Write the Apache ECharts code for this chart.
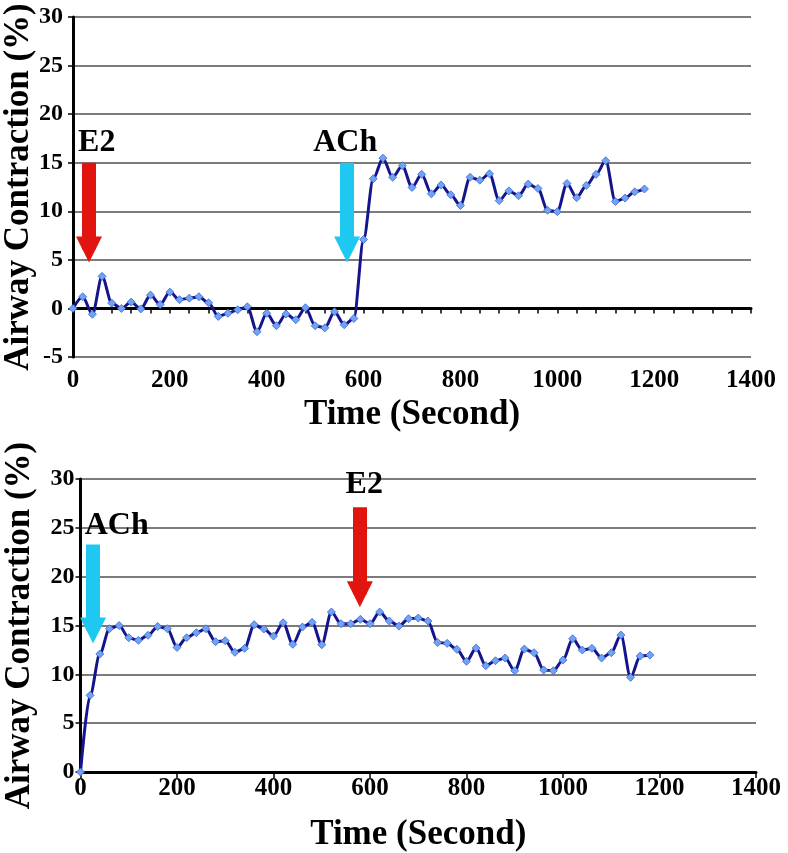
<!DOCTYPE html>
<html>
<head>
<meta charset="utf-8">
<script src="https://cdn.jsdelivr.net/npm/echarts@6/dist/echarts.min.js"></script>
<style>
html,body{margin:0;padding:0;background:#fff;}
#chart{width:788px;height:853px;}
</style>
</head>
<body>
<div id="chart"></div>
<script>
// ---- data ----
const seconds = [0,20,40,60,80,100,120,140,160,180,200,220,240,260,280,300,320,340,360,380,
  400,420,440,460,480,500,520,540,560,580,600,620,640,660,680,700,720,740,760,780,
  800,820,840,860,880,900,920,940,960,980,1000,1020,1040,1060,1080,1100,1120,1140,1160,1180];

// Top panel: E2 first, then ACh
const topValues = [0,1.2,-0.6,3.3,0.55,0,0.65,-0.05,1.37,0.4,1.68,0.9,1.06,1.2,0.58,-0.82,-0.5,-0.14,0.17,-2.4,
  -0.5,-1.78,-0.58,-1.16,0.07,-1.78,-2.0,-0.34,-1.68,-1.03,7.1,13.35,15.47,13.5,14.7,12.46,13.8,11.8,12.7,11.7,
  10.6,13.5,13.2,13.86,11.1,12.1,11.6,12.8,12.35,10.1,9.96,12.86,11.4,12.66,13.8,15.2,11.0,11.36,12.0,12.3];

// Bottom panel: ACh first, then E2
const bottomValues = [0,7.85,12.08,14.67,15.0,13.75,13.48,14.0,14.9,14.67,12.76,13.75,14.26,14.67,13.34,13.44,12.25,12.66,15.08,14.64,
  13.92,15.28,13.07,14.84,15.32,13.03,16.38,15.18,15.18,15.63,15.18,16.38,15.46,14.94,15.7,15.76,15.46,13.27,13.17,12.56,
  11.33,12.69,10.88,11.39,11.67,10.37,12.59,12.21,10.44,10.37,11.46,13.64,12.49,12.66,11.67,12.21,14.02,9.69,11.87,11.97];

// Annotations (drug application): name, time, arrow top value, arrow end value, label time, label value
const topMarkers = [
  {name: 'E2',  t: 33,  from: 15, to: 6.06, lt: 49,  lv: 17.1},
  {name: 'ACh', t: 566, from: 15, to: 6.06, lt: 562, lv: 17.1}
];
const bottomMarkers = [
  {name: 'ACh', t: 26,  from: 23.3, to: 14.5, lt: 75,  lv: 25.2},
  {name: 'E2',  t: 579, from: 27.1, to: 18.2, lt: 588, lv: 29.4}
];

const xAxisName = 'Time (Second)';
const yAxisName = 'Airway Contraction (%)';

// ---- styling ----
const FONT = '"Liberation Serif", "Times New Roman", serif';
const markerColors = {E2: '#e2140f', ACh: '#1fc8f0'};

function pairs(vals){ return seconds.map((s,i)=>[s, vals[i]]); }

function arrowLines(markers){
  return markers.map(m => [
    {coord:[m.t, m.from], symbol:'none', lineStyle:{color: markerColors[m.name]}},
    {coord:[m.t, m.to], symbol:'triangle', symbolSize:26, itemStyle:{color: markerColors[m.name]}}
  ]);
}
function arrowLabels(markers){
  return markers.map(m => ({coord:[m.lt, m.lv], value: m.name}));
}

function series(gridIdx, xIdx, vals, markers){
  return {
    type:'line',
    xAxisIndex: xIdx, yAxisIndex: gridIdx,
    data: pairs(vals),
    smooth: 0.3,
    smoothMonotone: 'x',
    symbol: 'diamond',
    symbolSize: 8,
    lineStyle: {color:'#14148c', width:3},
    itemStyle: {color:'#72a3f2', borderColor:'#3a64d2', borderWidth:0.8},
    z: 3,
    markLine: {
      silent: true,
      animation: false,
      label: {show:false},
      symbol: ['none','triangle'],
      lineStyle: {width:14, type:'solid', cap:'butt'},
      data: arrowLines(markers)
    },
    markPoint: {
      silent: true,
      animation: false,
      symbol: 'circle',
      symbolSize: 0,
      label: {show:true, position:'inside', formatter: p => p.value,
        fontFamily: FONT, fontWeight:'bold', fontSize:32, color:'#000'},
      data: arrowLabels(markers)
    }
  };
}

const plain = v => String(v);
const gridLine = {show:true, lineStyle:{color:'#505050', width:1.5}};
const yLabel = (m) => ({fontFamily:FONT, fontWeight:'bold', fontSize:24, color:'#000', margin:m, formatter: plain});
const xLabel = (m) => ({fontFamily:FONT, fontWeight:'bold', fontSize:25, color:'#000', margin:m, formatter: plain});
const nameStyle = {fontFamily:FONT, fontWeight:'bold', fontSize:35, color:'#000'};

const option = {
  animation: false,
  backgroundColor: '#fff',
  grid: [
    {left:73, right:37, top:17, bottom:496, containLabel:false, outerBoundsMode:'none'},
    {left:80.5, right:32, top:479, bottom:81, containLabel:false, outerBoundsMode:'none'}
  ],
  xAxis: [
    { // top panel labels (at bottom of plot)
      type:'value', gridIndex:0, min:0, max:1400, interval:200,
      axisLine:{show:false, onZero:false},
      axisTick:{show:false},
      axisLabel: xLabel(11),
      splitLine:{show:false},
      name: xAxisName, nameLocation:'middle', nameGap:40, nameMoveOverlap:false, nameTextStyle: nameStyle
    },
    { // top panel zero line with minor ticks
      type:'value', gridIndex:0, min:0, max:1400, interval:40, position:'bottom',
      axisLine:{show:true, onZero:true, onZeroAxisIndex:0, lineStyle:{color:'#000', width:3}},
      axisTick:{show:true, length:5, lineStyle:{color:'#000', width:1.5}},
      axisLabel:{show:false},
      splitLine:{show:false}
    },
    { // bottom panel
      type:'value', gridIndex:1, min:0, max:1400, interval:200,
      axisLine:{show:true, onZero:false, lineStyle:{color:'#000', width:3}},
      axisTick:{show:true, length:6, lineStyle:{color:'#000', width:1.5}},
      axisLabel: xLabel(4),
      splitLine:{show:false},
      name: xAxisName, nameLocation:'middle', nameGap:45, nameMoveOverlap:false, nameTextStyle: nameStyle
    }
  ],
  yAxis: [
    {
      type:'value', gridIndex:0, min:-5, max:30, interval:5,
      axisLine:{show:true, onZero:false, lineStyle:{color:'#000', width:3}},
      axisTick:{show:true, length:5, lineStyle:{color:'#000', width:1.5}},
      axisLabel: yLabel(10),
      splitLine: gridLine,
      name: yAxisName, nameLocation:'middle', nameGap:37, nameRotate:90, nameMoveOverlap:false, nameTextStyle: nameStyle
    },
    {
      type:'value', gridIndex:1, min:0, max:30, interval:5,
      axisLine:{show:true, onZero:false, lineStyle:{color:'#000', width:3}},
      axisTick:{show:true, length:5, lineStyle:{color:'#000', width:1.5}},
      axisLabel: yLabel(6),
      splitLine: gridLine,
      name: yAxisName, nameLocation:'middle', nameGap:43, nameRotate:90, nameMoveOverlap:false, nameTextStyle: nameStyle
    }
  ],
  series: [
    series(0, 1, topValues, topMarkers),
    series(1, 2, bottomValues, bottomMarkers)
  ]
};

const chart = echarts.init(document.getElementById('chart'), null, {renderer:'canvas'});
chart.setOption(option);
</script>
</body>
</html>
